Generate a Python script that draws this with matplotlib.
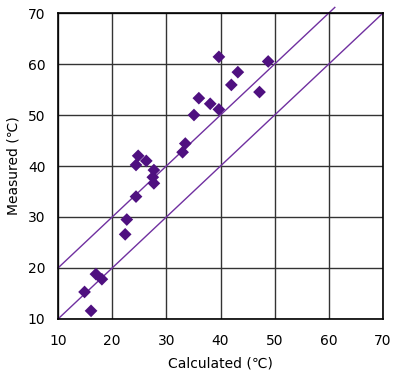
import matplotlib
matplotlib.use("Agg")
import matplotlib.pyplot as plt
import numpy as np

calculated = [16.1, 14.9, 17.0, 18.1, 22.4, 22.7, 24.4, 27.7, 27.5, 27.7, 24.4, 26.3,
              24.8, 33.0, 33.5, 35.1, 36.0, 38.1, 39.7, 39.7, 42.0, 43.2, 47.2, 48.8]
measured = [11.6, 15.3, 18.8, 17.8, 26.6, 29.5, 34.0, 36.6, 37.8, 39.2, 40.2, 41.0,
            42.0, 42.7, 44.4, 50.0, 53.3, 52.2, 51.1, 61.4, 55.9, 58.4, 54.5, 60.5]
line1_x = [10, 70]
line2_x = [10, 61.1]
offsets = [0, 10]
ticks = [10, 20, 30, 40, 50, 60, 70]

plt.rcParams['font.family'] = ['DejaVu Sans', 'Noto Sans CJK JP']

fig = plt.figure(figsize=(3.93, 3.73), dpi=100)
ax = fig.add_axes([0.1476, 0.1448, 0.8270, 0.8203])

for lx, off in zip([line1_x, line2_x], offsets):
    ax.plot(lx, [v + off for v in lx], color='#7030A0', lw=1.0, zorder=2, clip_on=False)

ax.scatter(calculated, measured, marker='D', s=42, color='#4F1080', edgecolors='none', zorder=3)

ax.set_xlim(10, 70)
ax.set_ylim(10, 70)
ax.set_xticks(ticks)
ax.set_yticks(ticks)
ax.grid(True, color='#333333', lw=1.0, zorder=1)
ax.set_axisbelow(True)
for s in ax.spines.values():
    s.set_color('black')
    s.set_linewidth(1.2)
ax.tick_params(axis='x', length=0, labelsize=10, pad=11)
ax.tick_params(axis='y', length=0, labelsize=10, pad=9)
ax.set_xlabel('Calculated (℃)', fontsize=10, family=['DejaVu Sans', 'Noto Sans CJK JP'], labelpad=6)
ax.set_ylabel('Measured (℃)', fontsize=10, family=['DejaVu Sans', 'Noto Sans CJK JP'], labelpad=5)

fig.savefig('out.png', dpi=100)
